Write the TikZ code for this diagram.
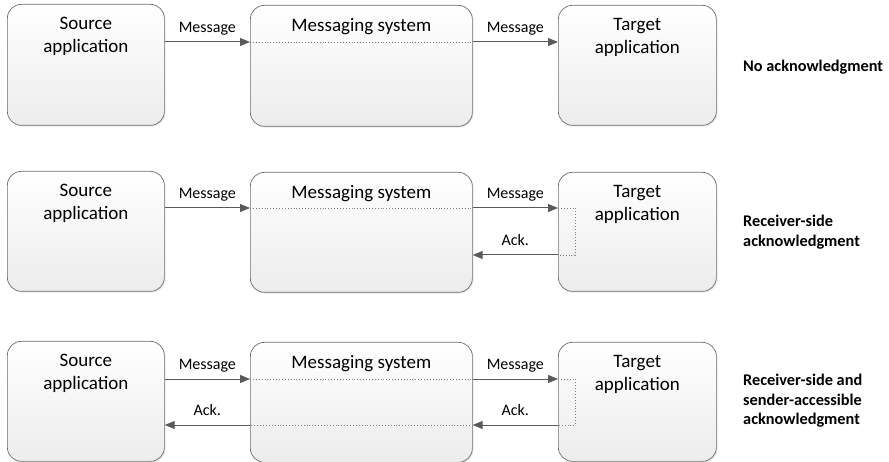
\documentclass[tikz,border=0pt]{standalone}
\usepackage{fontspec}
\setmainfont{Carlito}
\usetikzlibrary{arrows.meta,shadows,calc}
\definecolor{edge}{HTML}{6E6E6E}
\definecolor{arrowgray}{HTML}{5A5A5A}
\definecolor{dotgray}{HTML}{808080}
\definecolor{boxbottom}{HTML}{ECECEC}
\tikzset{
  box/.style={rectangle, rounded corners=14pt, draw=edge, line width=0.7pt,
    top color=white, bottom color=boxbottom, anchor=north west,
    drop shadow={opacity=0.18, shadow xshift=1.2pt, shadow yshift=-1.2pt}},
  boxtext/.style={anchor=north, inner sep=0pt, align=center,
    font=\fontsize{19pt}{23pt}\selectfont},
  lbl/.style={font=\fontsize{16pt}{19pt}\selectfont, inner sep=0pt, anchor=base},
  side/.style={font=\bfseries\fontsize{16.3pt}{19.5pt}\selectfont, inner sep=0pt,
    anchor=west, align=left},
  arr/.style={draw=arrowgray, line width=1pt, -{Triangle[length=10pt,width=8pt]}},
  thru/.style={draw=dotgray, line width=0.9pt, dotted},
}
\begin{document}
% y grows downwards: offsets below are in picture pixels
\begin{tikzpicture}[x=1pt,y=-1pt]
\useasboundingbox (0,0) rectangle (889,462);

% ---------- row 1: no acknowledgment ----------
\node[box, minimum width=157pt, minimum height=121pt] (src1) at (7,4) {};
\node[box, minimum width=222pt, minimum height=121pt] (msg1) at (250,5) {};
\node[box, minimum width=158pt, minimum height=120pt] (tgt1) at (558,5) {};
\node[boxtext] (src1t) at ([yshift=-13pt]src1.north) {Source\\application};
\node[boxtext] (msg1t) at ([yshift=-13pt]msg1.north) {Messaging system};
\node[boxtext] (tgt1t) at ([yshift=-13pt]tgt1.north) {Target\\application};
\coordinate (r1a) at ($(src1.north east)+(0,38)$);
\draw[arr] (r1a) -- (msg1.west |- r1a);
\draw[thru] (msg1.west |- r1a) -- (msg1.east |- r1a);
\draw[arr] (msg1.east |- r1a) -- (tgt1.west |- r1a);
\node[lbl] (m1a) at ($(src1.east |- r1a)!0.5!(msg1.west |- r1a)+(0,-9.5)$) {Message};
\node[lbl] (m1b) at ($(msg1.east |- r1a)!0.5!(tgt1.west |- r1a)+(0,-9.5)$) {Message};
\node[side] (d1) at (743,67) {No acknowledgment};

% ---------- row 2: receiver-side acknowledgment ----------
\node[box, minimum width=157pt, minimum height=120pt] (src2) at (7,171) {};
\node[box, minimum width=222pt, minimum height=120pt] (msg2) at (250,172) {};
\node[box, minimum width=158pt, minimum height=119pt] (tgt2) at (558,172) {};
\node[boxtext] (src2t) at ([yshift=-13pt]src2.north) {Source\\application};
\node[boxtext] (msg2t) at ([yshift=-13pt]msg2.north) {Messaging system};
\node[boxtext] (tgt2t) at ([yshift=-13pt]tgt2.north) {Target\\application};
\coordinate (r2a) at ($(src2.north east)+(0,37)$);
\coordinate (r2b) at ($(src2.north east)+(0,84)$);
\draw[arr] (r2a) -- (msg2.west |- r2a);
\draw[thru] (msg2.west |- r2a) -- (msg2.east |- r2a);
\draw[arr] (msg2.east |- r2a) -- (tgt2.west |- r2a);
\draw[thru] (tgt2.west |- r2a) -- ++(17,0) |- (tgt2.west |- r2b);
\draw[arr] (tgt2.west |- r2b) -- (msg2.east |- r2b);
\node[lbl] (m2a) at ($(src2.east |- r2a)!0.5!(msg2.west |- r2a)+(0,-9.5)$) {Message};
\node[lbl] (m2b) at ($(msg2.east |- r2a)!0.5!(tgt2.west |- r2a)+(0,-9.5)$) {Message};
\node[lbl] (k2) at ($(msg2.east |- r2b)!0.5!(tgt2.west |- r2b)+(0,-9.5)$) {Ack.};
\node[side] (d2) at (743,232) {Receiver-side\\acknowledgment};

% ---------- row 3: receiver-side and sender-accessible acknowledgment ----------
\node[box, minimum width=157pt, minimum height=120pt] (src3) at (7,341) {};
\node[box, minimum width=222pt, minimum height=120pt] (msg3) at (250,342) {};
\node[box, minimum width=158pt, minimum height=119pt] (tgt3) at (558,342) {};
\node[boxtext] (src3t) at ([yshift=-13pt]src3.north) {Source\\application};
\node[boxtext] (msg3t) at ([yshift=-13pt]msg3.north) {Messaging system};
\node[boxtext] (tgt3t) at ([yshift=-13pt]tgt3.north) {Target\\application};
\coordinate (r3a) at ($(src3.north east)+(0,38)$);
\coordinate (r3b) at ($(src3.north east)+(0,84)$);
\draw[arr] (r3a) -- (msg3.west |- r3a);
\draw[thru] (msg3.west |- r3a) -- (msg3.east |- r3a);
\draw[arr] (msg3.east |- r3a) -- (tgt3.west |- r3a);
\draw[thru] (tgt3.west |- r3a) -- ++(17,0) |- (tgt3.west |- r3b);
\draw[arr] (tgt3.west |- r3b) -- (msg3.east |- r3b);
\draw[thru] (msg3.east |- r3b) -- (msg3.west |- r3b);
\draw[arr] (msg3.west |- r3b) -- (src3.east |- r3b);
\node[lbl] (m3a) at ($(src3.east |- r3a)!0.5!(msg3.west |- r3a)+(0,-9.5)$) {Message};
\node[lbl] (m3b) at ($(msg3.east |- r3a)!0.5!(tgt3.west |- r3a)+(0,-9.5)$) {Message};
\node[lbl] (k3a) at ($(src3.east |- r3b)!0.5!(msg3.west |- r3b)+(0,-9.5)$) {Ack.};
\node[lbl] (k3b) at ($(msg3.east |- r3b)!0.5!(tgt3.west |- r3b)+(0,-9.5)$) {Ack.};
\node[side] (d3) at (743,401) {Receiver-side and\\sender-accessible\\acknowledgment};
\end{tikzpicture}
\end{document}
